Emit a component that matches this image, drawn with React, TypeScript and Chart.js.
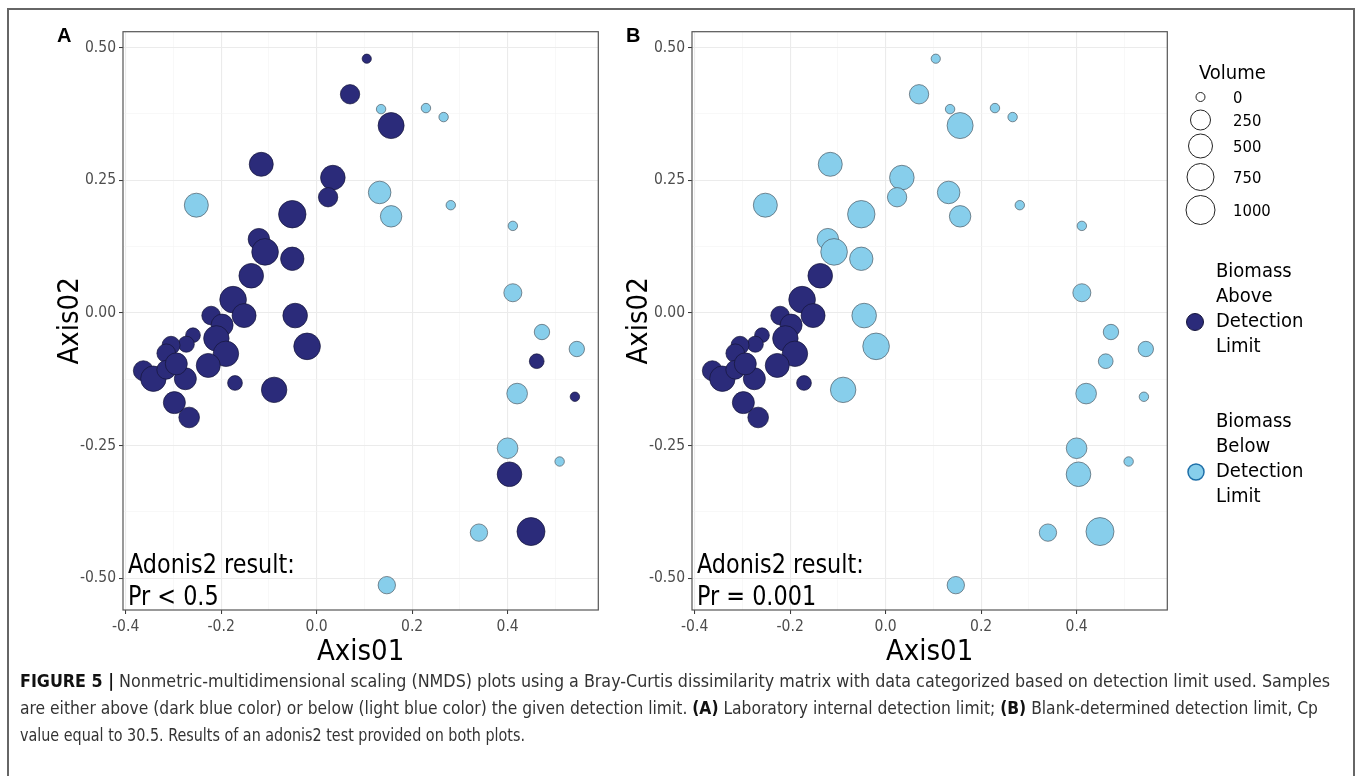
import React, { useEffect, useRef } from "react";
import { Chart, registerables } from "chart.js";

Chart.register(...registerables);

// ---------- data ----------
const axis01 = [
  0.105, 0.07, 0.135, 0.229, 0.266, 0.156, -0.116, 0.034, 0.024, 0.132,
  0.156, 0.281, -0.252, -0.051, -0.121, -0.108, -0.051, -0.137, 0.411, 0.411,
  -0.175, -0.152, -0.045, -0.221, -0.198, -0.259, -0.21, -0.273, -0.305, -0.19,
  -0.02, -0.315, -0.227, -0.363, -0.342, -0.315, -0.275, -0.171, -0.089, -0.298,
  -0.267, 0.472, 0.545, 0.461, 0.42, 0.541, 0.4, 0.509, 0.404, 0.34,
  0.449, 0.147, -0.294,
];
const axis02 = [
  0.479, 0.412, 0.384, 0.386, 0.369, 0.353, 0.28, 0.255, 0.218, 0.227,
  0.182, 0.203, 0.203, 0.186, 0.139, 0.115, 0.102, 0.07, 0.164, 0.038,
  0.025, -0.005, -0.005, -0.005, -0.023, -0.042, -0.048, -0.059, -0.061, -0.077,
  -0.063, -0.076, -0.099, -0.109, -0.124, -0.107, -0.124, -0.132, -0.145, -0.169,
  -0.197, -0.036, -0.068, -0.091, -0.152, -0.158, -0.255, -0.28, -0.304, -0.414,
  -0.412, -0.513, -0.096,
];
const volume = [
  5, 235, 10, 10, 10, 670, 500, 550, 235, 410,
  340, 10, 500, 800, 340, 720, 460, 550, 10, 205,
  720, 500, 550, 220, 375, 130, 620, 160, 205, 620,
  720, 220, 500, 250, 620, 225, 375, 130, 620, 375,
  290, 145, 145, 130, 290, 10, 290, 10, 550, 190,
  875, 190, 375,
];
// 1 = biomass above detection limit, 0 = below
const aboveInternalLimit = [
  1, 1, 0, 0, 0, 1, 1, 1, 1, 0,
  0, 0, 0, 1, 1, 1, 1, 1, 0, 0,
  1, 1, 1, 1, 1, 1, 1, 1, 1, 1,
  1, 1, 1, 1, 1, 1, 1, 1, 1, 1,
  1, 0, 0, 1, 0, 1, 0, 0, 1, 0,
  1, 0, 1,
];
const aboveBlankLimit = [
  0, 0, 0, 0, 0, 0, 0, 0, 0, 0,
  0, 0, 0, 0, 0, 0, 0, 1, 0, 0,
  1, 1, 0, 1, 1, 1, 1, 1, 1, 1,
  0, 1, 1, 1, 1, 1, 1, 1, 0, 1,
  1, 0, 0, 0, 0, 0, 0, 0, 0, 0,
  0, 0, 1,
];
const xMajorTicks = [-0.4, -0.2, 0, 0.2, 0.4];
const xMinorTicks = [-0.3, -0.1, 0.1, 0.3, 0.5];
const yMajorTicks = [-0.5, -0.25, 0, 0.25, 0.5];
const yMinorTicks = [-0.375, -0.125, 0.125, 0.375];
const volumeBreaks = [0, 250, 500, 750, 1000];

// ---------- styles ----------
const X_MIN = -0.4056;
const X_MAX = 0.59;
const Y_MIN = -0.5598;
const Y_MAX = 0.5299;
const SIZE_RANGE = [4.5, 10, 12, 13.5, 14.5]; // radius at each volume break
const DARK = "#2b2b7a";
const LIGHT = "#87ceeb";
const NARROW =
  "'Liberation Sans Narrow', 'Arial Narrow', 'DejaVu Sans Condensed', 'Liberation Sans', sans-serif";

function radiusFor(v: number): number {
  for (let i = 1; i < volumeBreaks.length; i++) {
    if (v <= volumeBreaks[i]) {
      const t = (v - volumeBreaks[i - 1]) / (volumeBreaks[i] - volumeBreaks[i - 1]);
      return SIZE_RANGE[i - 1] + t * (SIZE_RANGE[i] - SIZE_RANGE[i - 1]);
    }
  }
  return SIZE_RANGE[SIZE_RANGE.length - 1];
}

const isIn = (arr: number[], v: number) => arr.some((a) => Math.abs(a - v) < 1e-6);

const framePlugin = {
  id: "panelFrame",
  afterDatasetsDraw(chart: any) {
    const { ctx, chartArea } = chart;
    ctx.save();
    ctx.strokeStyle = "#555555";
    ctx.lineWidth = 1.2;
    ctx.strokeRect(chartArea.left, chartArea.top, chartArea.right - chartArea.left, chartArea.bottom - chartArea.top);
    ctx.restore();
  },
};

function makeConfig(groups: number[]): any {
  const points = axis01.map((x, i) => ({ x, y: axis02[i] }));
  const radii = volume.map(radiusFor);
  const tickFont = { family: NARROW, size: 15.5 };
  const titleFont = { family: NARROW, size: 29, lineHeight: 1 };
  return {
    type: "scatter",
    data: {
      datasets: [
        {
          data: points,
          backgroundColor: groups.map((g) => (g ? DARK : LIGHT)),
          borderColor: groups.map((g) => (g ? "#15153a" : "#4f5b66")),
          borderWidth: 0.7,
          pointRadius: radii,
          pointHoverRadius: radii,
        },
      ],
    },
    options: {
      animation: false,
      responsive: false,
      maintainAspectRatio: false,
      events: [],
      layout: { padding: { top: 10, right: 14, bottom: 0, left: 0 } },
      plugins: { legend: { display: false }, tooltip: { enabled: false } },
      scales: {
        x: {
          type: "linear",
          min: X_MIN,
          max: X_MAX,
          afterBuildTicks: (s: any) => {
            s.ticks = [...xMajorTicks, ...xMinorTicks].sort((a, b) => a - b).map((v) => ({ value: v }));
          },
          afterFit: (s: any) => {
            s.height = 67;
          },
          border: { display: false },
          grid: {
            color: (c: any) => (c.tick && isIn(xMajorTicks, c.tick.value) ? "#ebebeb" : "#f3f3f3"),
            lineWidth: (c: any) => (c.tick && isIn(xMajorTicks, c.tick.value) ? 1.1 : 0.6),
            tickColor: (c: any) => (c.tick && isIn(xMajorTicks, c.tick.value) ? "#333333" : "rgba(0,0,0,0)"),
            tickLength: 4,
            tickWidth: 1,
          },
          ticks: {
            autoSkip: false,
            maxRotation: 0,
            padding: 4,
            color: "#4d4d4d",
            font: tickFont,
            callback: (v: any) => (isIn(xMajorTicks, Number(v)) ? Number(v).toFixed(1) : ""),
          },
          title: { display: true, text: "Axis01", color: "#000", font: titleFont, padding: { top: 0, bottom: 10 } },
        },
        y: {
          type: "linear",
          min: Y_MIN,
          max: Y_MAX,
          afterBuildTicks: (s: any) => {
            s.ticks = [...yMajorTicks, ...yMinorTicks].sort((a, b) => a - b).map((v) => ({ value: v }));
          },
          afterFit: (s: any) => {
            s.width = 82;
          },
          border: { display: false },
          grid: {
            color: (c: any) => (c.tick && isIn(yMajorTicks, c.tick.value) ? "#ebebeb" : "#f3f3f3"),
            lineWidth: (c: any) => (c.tick && isIn(yMajorTicks, c.tick.value) ? 1.1 : 0.6),
            tickColor: (c: any) => (c.tick && isIn(yMajorTicks, c.tick.value) ? "#333333" : "rgba(0,0,0,0)"),
            tickLength: 4,
            tickWidth: 1,
          },
          ticks: {
            autoSkip: false,
            padding: 3,
            color: "#4d4d4d",
            font: tickFont,
            callback: (v: any) => (isIn(yMajorTicks, Number(v)) ? Number(v).toFixed(2) : ""),
          },
          title: { display: true, text: "Axis02", color: "#000", font: titleFont, padding: { top: 15, bottom: 0 } },
        },
      },
    },
    plugins: [framePlugin],
  };
}

function Panel({ groups, left }: { groups: number[]; left: number }) {
  const ref = useRef<HTMLCanvasElement>(null);
  useEffect(() => {
    const chart = new Chart(ref.current as HTMLCanvasElement, makeConfig(groups));
    return () => chart.destroy();
  }, [groups]);
  return (
    <canvas
      ref={ref}
      width={572}
      height={660}
      style={{ position: "absolute", left, top: 17, width: 572, height: 660 }}
    />
  );
}

const abs = (left: number, top: number, extra: React.CSSProperties = {}): React.CSSProperties => ({
  position: "absolute",
  left,
  top,
  whiteSpace: "nowrap",
  ...extra,
});

const B = ({ children }: { children: React.ReactNode }) => <b style={{ color: "#111" }}>{children}</b>;

const captionLines: { node: React.ReactNode; width: number }[] = [
  {
    node: (
      <>
        <B>FIGURE 5 |</B>
        {" Nonmetric-multidimensional scaling (NMDS) plots using a Bray-Curtis dissimilarity matrix with data categorized based on detection limit used. Samples"}
      </>
    ),
    width: 1310,
  },
  {
    node: (
      <>
        {"are either above (dark blue color) or below (light blue color) the given detection limit. "}
        <B>(A)</B>
        {" Laboratory internal detection limit; "}
        <B>(B)</B>
        {" Blank-determined detection limit, Cp"}
      </>
    ),
    width: 1298,
  },
  { node: <>{"value equal to 30.5. Results of an adonis2 test provided on both plots."}</>, width: 505 },
];

function FitLine({ width, top, children }: { width: number; top: number; children: React.ReactNode }) {
  const ref = useRef<HTMLDivElement>(null);
  useEffect(() => {
    const el = ref.current;
    if (!el) return;
    el.style.transform = "none";
    const w = el.getBoundingClientRect().width;
    if (w > 0) el.style.transform = `scaleX(${width / w})`;
  }, [width]);
  return (
    <div
      ref={ref}
      style={abs(20, top, {
        fontFamily: NARROW,
        fontSize: 18.5,
        lineHeight: "27px",
        color: "#333",
        transformOrigin: "0 0",
      })}
    >
      {children}
    </div>
  );
}

function Legend() {
  const cy = [97, 120, 146, 177, 210];
  return (
    <svg width={1362} height={776} style={{ position: "absolute", left: 0, top: 0, pointerEvents: "none" }}>
      <text x={1199} y={72} fontFamily={NARROW} fontSize={20} dominantBaseline="central" fill="#000">
        Volume
      </text>
      {volumeBreaks.map((b, i) => (
        <g key={b}>
          <circle cx={1200.5} cy={cy[i]} r={radiusFor(b)} fill="#fff" stroke="#222" strokeWidth={1} />
          <text x={1233} y={cy[i]} fontFamily={NARROW} fontSize={16.5} dominantBaseline="central" fill="#000">
            {b}
          </text>
        </g>
      ))}
      <circle cx={1195} cy={322} r={8.5} fill={DARK} stroke="#15153a" strokeWidth={1} />
      {["Biomass", "Above", "Detection", "Limit"].map((t, i) => (
        <text key={t} x={1216} y={270 + i * 25} fontFamily={NARROW} fontSize={20} dominantBaseline="central" fill="#000">
          {t}
        </text>
      ))}
      <circle cx={1196} cy={472} r={8} fill={LIGHT} stroke="#1f6fa8" strokeWidth={1.5} />
      {["Biomass", "Below", "Detection", "Limit"].map((t, i) => (
        <text key={t + "b"} x={1216} y={420 + i * 25} fontFamily={NARROW} fontSize={20} dominantBaseline="central" fill="#000">
          {t}
        </text>
      ))}
    </svg>
  );
}

export default function App() {
  const annot: React.CSSProperties = {
    fontFamily: NARROW,
    fontSize: 27,
    lineHeight: "32px",
    color: "#000",
    transform: "scaleX(0.92)",
    transformOrigin: "0 0",
  };
  const letter: React.CSSProperties = {
    fontFamily: "'Liberation Sans', Arial, sans-serif",
    fontWeight: "bold",
    fontSize: 20,
    lineHeight: "20px",
    color: "#000",
  };
  return (
    <div
      style={{
        position: "fixed",
        left: 0,
        top: 0,
        width: 1362,
        height: 776,
        overflow: "hidden",
        background: "#fff",
      }}
    >
      <div
        style={{
          position: "absolute",
          left: 7,
          top: 8,
          width: 1348,
          height: 800,
          border: "2px solid #666",
          boxSizing: "border-box",
        }}
      />
      <Panel groups={aboveInternalLimit} left={41} />
      <Panel groups={aboveBlankLimit} left={610} />
      <div style={abs(57, 25, letter)}>A</div>
      <div style={abs(626, 25, letter)}>B</div>
      <div style={abs(128, 548, annot)}>
        Adonis2 result:
        <br />
        Pr &lt; 0.5
      </div>
      <div style={abs(697, 548, annot)}>
        Adonis2 result:
        <br />
        Pr = 0.001
      </div>
      <Legend />
      {captionLines.map((l, i) => (
        <FitLine key={i} width={l.width} top={667 + i * 27}>
          {l.node}
        </FitLine>
      ))}
    </div>
  );
}
